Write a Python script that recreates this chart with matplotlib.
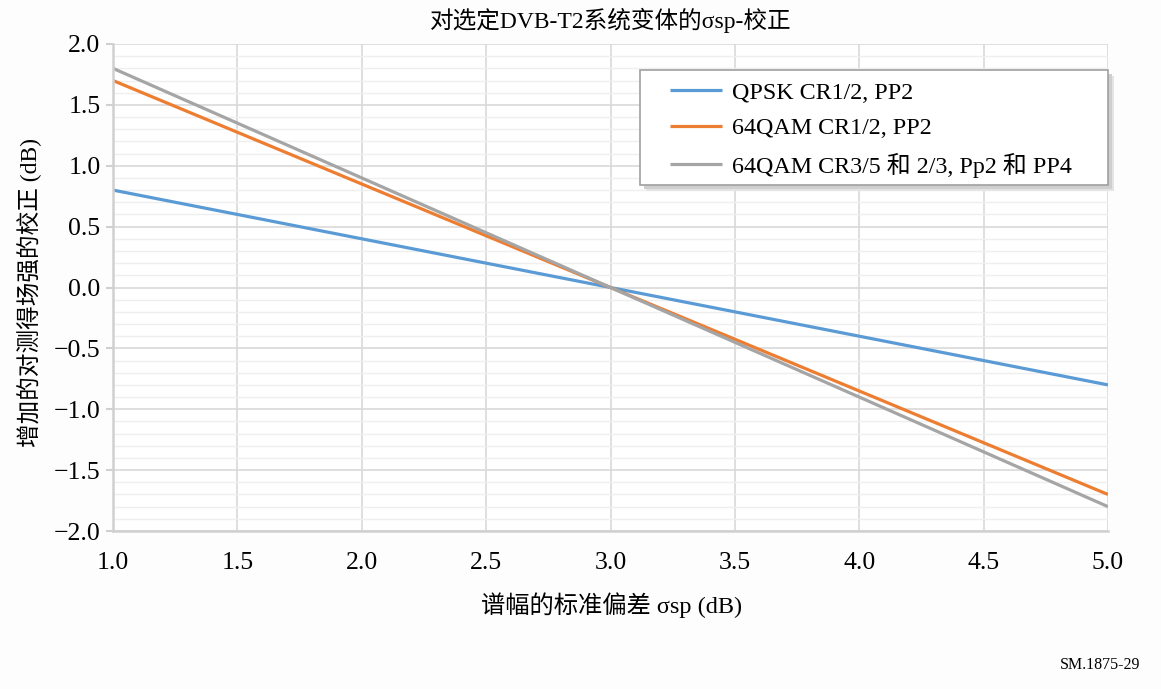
import numpy as np
import matplotlib.pyplot as plt
from matplotlib.patches import Rectangle
from matplotlib.ticker import MultipleLocator

# σsp (dB) and correction values (dB) for each DVB-T2 variant
sigma_sp = [1.0, 2.0, 3.0, 4.0, 5.0]
qpsk_12 = [0.8, 0.4, 0.0, -0.4, -0.8]
qam64_12 = [1.7, 0.85, 0.0, -0.85, -1.7]
qam64_35 = [1.8, 0.9, 0.0, -0.9, -1.8]

labels = ["QPSK CR1/2, PP2", "64QAM CR1/2, PP2", "64QAM CR3/5 和 2/3, Pp2 和 PP4"]
colors = ["#5B9BD5", "#ED7D31", "#A5A5A5"]

fam = ["Liberation Serif", "Noto Sans CJK SC"]
plt.rcParams["font.family"] = fam

W, H = 1161, 689
fig = plt.figure(figsize=(W / 100, H / 100), dpi=100, facecolor="#FDFDFD")
ax = fig.add_axes([113 / W, 1 - 531 / H, 995 / W, 487 / H])
ax.set_facecolor("white")

for ys, lab, c in zip([qpsk_12, qam64_12, qam64_35], labels, colors):
    ax.plot(sigma_sp, ys, color=c, lw=2.3, label=lab, solid_capstyle="butt")

ax.set_xlim(1.0, 5.0)
ax.set_ylim(-2.0, 2.0)
ax.xaxis.set_major_locator(MultipleLocator(0.5))
ax.yaxis.set_major_locator(MultipleLocator(0.5))
ax.yaxis.set_minor_locator(MultipleLocator(0.1))
ax.xaxis.set_major_formatter(plt.FuncFormatter(lambda v, p: f"{v:.1f}"))
ax.yaxis.set_major_formatter(plt.FuncFormatter(lambda v, p: f"{v:.1f}".replace("-", "\u2212")))

ax.grid(which="major", color="#D9D9D9", lw=1.2)
ax.grid(which="minor", axis="y", color="#EFEFEF", lw=1.0)
ax.set_axisbelow(True)

for s in ["top", "right"]:
    ax.spines[s].set_visible(False)
for s in ["left", "bottom"]:
    ax.spines[s].set_color("#D0D0D0")
    ax.spines[s].set_linewidth(1.8)

ax.tick_params(axis="y", which="major", length=5, color="#D0D0D0", width=1.5, labelsize=18.5, pad=4)
ax.tick_params(axis="y", which="minor", length=0)
ax.tick_params(axis="x", which="major", length=0, labelsize=18.5, pad=15)

ax.set_xlabel("谱幅的标准偏差 σsp (dB)", fontsize=17.5)
ax.xaxis.set_label_coords(0.5015, -0.125)
ax.set_ylabel("增加的对测得场强的校正 (dB)", fontsize=17)
ax.yaxis.set_label_coords(-0.0714, 0.49)
fig.text(611 / W, 1 - 20 / H, "对选定DVB-T2系统变体的σsp-校正", ha="center", va="center", fontsize=17)
fig.text(1140 / W, 1 - 665 / H, "SM.1875-29", ha="right", va="center", fontsize=11.5)

# legend box with a soft drop shadow
bx, by, bw, bh = 640 / W, 1 - 185 / H, 468 / W, 115 / H
for off, col in [(6, "#E4E4E4"), (4, "#CFCFCF")]:
    ax.add_patch(Rectangle((bx + off / W, by - off / H), bw, bh, transform=fig.transFigure,
                           facecolor=col, edgecolor="none", clip_on=False, zorder=4))
ax.add_patch(Rectangle((bx, by), bw, bh, transform=fig.transFigure, facecolor="white",
                       edgecolor="#A0A0A0", lw=1.2, clip_on=False, zorder=4.5))

leg = ax.legend(loc="upper left", bbox_to_anchor=(670 / W, 1 - 82 / H),
                bbox_transform=fig.transFigure, fontsize=17.3, frameon=False,
                handlelength=2.15, handletextpad=0.45, borderpad=0.0, labelspacing=0.56,
                borderaxespad=0.0)
leg.set_zorder(5)

fig.savefig("out.png", dpi=100, facecolor=fig.get_facecolor())
